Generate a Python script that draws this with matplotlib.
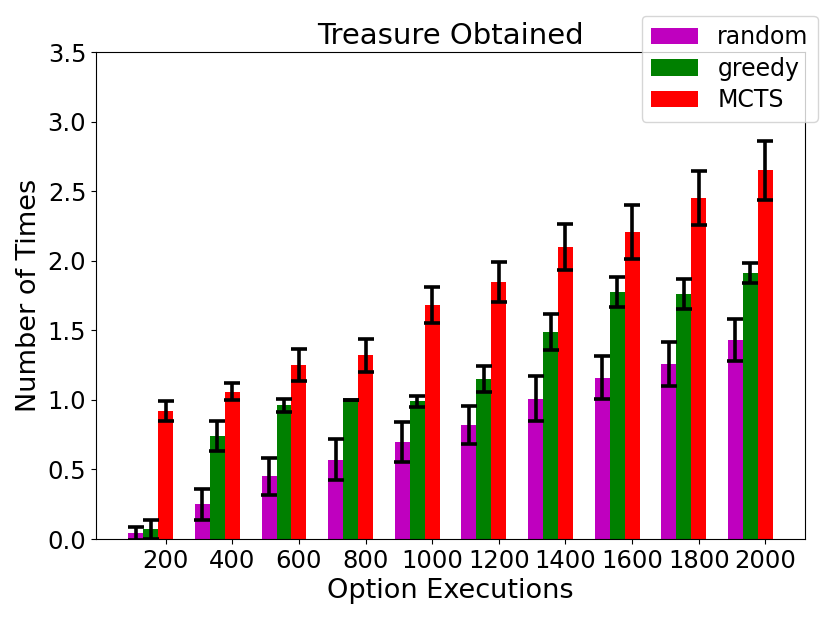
import matplotlib
matplotlib.use("Agg")
import matplotlib.pyplot as plt
import numpy as np

# 数据
labels = ['200', '400', '600', '800', '1000', '1200', '1400', '1600', '1800', '2000']
random_mean = [0.04, 0.25, 0.45, 0.57, 0.70, 0.82, 1.01, 1.16, 1.26, 1.43]
random_err = [0.05, 0.11, 0.13, 0.146, 0.144, 0.134, 0.164, 0.153, 0.158, 0.15]
greedy_mean = [0.07, 0.74, 0.96, 1.00, 0.99, 1.15, 1.49, 1.775, 1.76, 1.91]
greedy_err = [0.07, 0.11, 0.05, 0.0, 0.04, 0.092, 0.13, 0.11, 0.109, 0.073]
mcts_mean = [0.92, 1.06, 1.25, 1.32, 1.68, 1.85, 2.10, 2.21, 2.45, 2.65]
mcts_err = [0.072, 0.06, 0.115, 0.12, 0.13, 0.143, 0.167, 0.194, 0.194, 0.21]

fig = plt.figure(figsize=(8.3, 6.21), dpi=100)
ax = fig.add_axes([0.1157, 0.132, 0.8543, 0.784])

x = np.arange(len(labels))
w = 0.225
err_kw = dict(ecolor='k', elinewidth=2.6, capsize=6, capthick=2.6)

ax.bar(x, random_mean, w, yerr=random_err, color='m', label='random', error_kw=err_kw)
ax.bar(x + w, greedy_mean, w, yerr=greedy_err, color='g', label='greedy', error_kw=err_kw)
ax.bar(x + 2 * w, mcts_mean, w, yerr=mcts_err, color='r', label='MCTS', error_kw=err_kw)

ax.set_xticks(x + 2 * w)
ax.set_xticklabels(labels)
ax.set_ylim(0, 3.5)
ax.tick_params(labelsize=17.5)

ax.set_title('Treasure Obtained', fontsize=21)
ax.set_xlabel('Option Executions', fontsize=19.5)
ax.set_ylabel('Number of Times', fontsize=19.5)

ax.legend(loc='upper right', bbox_to_anchor=(1.035, 1.099), fontsize=17,
          labelspacing=0.32)

plt.savefig('out.png', dpi=100)
